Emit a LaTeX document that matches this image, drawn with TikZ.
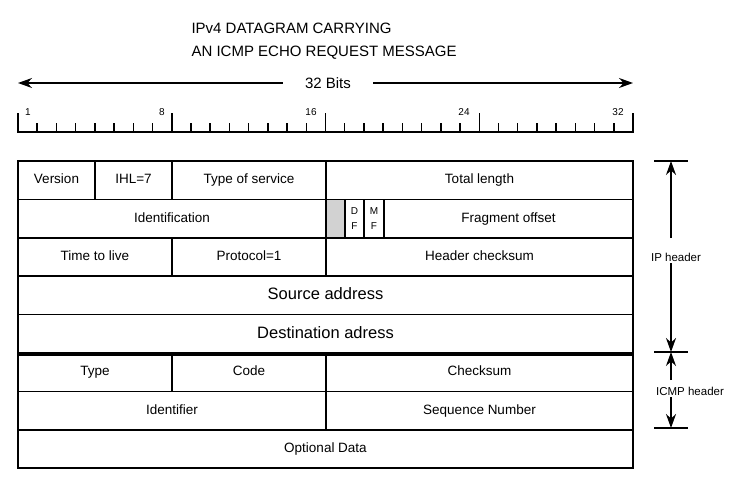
\documentclass[tikz,border=0pt]{standalone}
\usepackage{fontspec}
\setsansfont{Liberation Sans}
\usetikzlibrary{arrows.meta}

\begin{document}
\begin{tikzpicture}[x=1pt,y=-1pt,>={Stealth[length=14pt,width=10pt]},
  every node/.append style={font=\sffamily\fontsize{13.5}{16}\selectfont},
  field/.style={draw,line width=1.5pt,minimum height=38.4pt,inner sep=0pt,text height=9.5pt,text depth=2.5pt},
  bar/.style={line width=1.5pt}]
  \useasboundingbox (0,0) rectangle (733,482);

  \node[align=left,anchor=west,font=\sffamily\fontsize{15}{23}\selectfont] (title) at (188,41)
    {IPv4 DATAGRAM CARRYING\\AN ICMP ECHO REQUEST MESSAGE};

  % 32 bit ruler
  \node[inner xsep=22pt,font=\sffamily\fontsize{15}{18}\selectfont] (bits) at (328,83) {32 Bits};
  \coordinate (bitsL) at (18,83);
  \coordinate (bitsR) at (633,83);
  \draw[->,bar] (bits.west) -- (bitsL);
  \draw[->,bar] (bits.east) -- (bitsR);
  \draw[bar] (17.25,132) -- (633.75,132);
  \foreach \i in {0,...,32} {
    \pgfmathsetmacro\len{mod(\i,8)==0 ? 19 : 9}
    \draw[bar] ({18+\i*19.22},132) -- ++(0,-\len);
  }
  \foreach \lab/\x in {1/28,8/162,16/311,24/464,32/618}
    \node[font=\sffamily\fontsize{10}{11}\selectfont] (n\lab) at (\x,112) {\lab};

  % IP header
  \node[field,minimum width=77pt] (version) at (56.5,180.2) {Version};
  \node[field,minimum width=77pt] (ihl) at (133.5,180.2) {IHL=7};
  \node[field,minimum width=154pt] (tos) at (249,180.2) {Type of service};
  \node[field,minimum width=307pt] (totlen) at (479.5,180.2) {Total length};

  \node[field,minimum width=308pt] (ident) at (172,218.6) {Identification};
  \node[field,fill=gray!35,minimum width=19pt] (resv) at (335.5,218.6) {};
  \node[field,minimum width=19pt,text height=,text depth=,align=center,font=\sffamily\fontsize{10}{15}\selectfont] (df) at (354.5,218.6) {D\\F};
  \node[field,minimum width=20pt,text height=,text depth=,align=center,font=\sffamily\fontsize{10}{15}\selectfont] (mf) at (374,218.6) {M\\F};
  \node[field,minimum width=249pt] (fragoff) at (508.5,218.6) {Fragment offset};

  \node[field,minimum width=154pt] (ttl) at (95,257) {Time to live};
  \node[field,minimum width=154pt] (proto) at (249,257) {Protocol=1};
  \node[field,minimum width=307pt] (hcksum) at (479.5,257) {Header checksum};

  \node[field,minimum width=615pt,text height=12pt,text depth=3pt,font=\sffamily\fontsize{16.5}{19}\selectfont] (src) at (325.5,295.4) {Source address};
  \node[field,minimum width=615pt,text height=12pt,text depth=3pt,font=\sffamily\fontsize{16.5}{19}\selectfont] (dst) at (325.5,333.8) {Destination adress};
  \draw[line width=3.5pt] (dst.south west) -- (dst.south east);

  % ICMP header
  \node[field,minimum width=154pt] (type) at (95,372.2) {Type};
  \node[field,minimum width=154pt] (code) at (249,372.2) {Code};
  \node[field,minimum width=307pt] (cksum) at (479.5,372.2) {Checksum};

  \node[field,minimum width=308pt] (identifier) at (172,410.6) {Identifier};
  \node[field,minimum width=307pt] (seqnum) at (479.5,410.6) {Sequence Number};

  \node[field,minimum width=615pt] (optdata) at (325.5,449) {Optional Data};

  % extent markers
  \coordinate (ipTop) at (671,161);
  \coordinate (ipBot) at (671,352);
  \coordinate (icmpBot) at (671,428);
  \draw[bar] ([xshift=-17pt]ipTop) -- ([xshift=17pt]ipTop);
  \draw[bar] ([xshift=-17pt]ipBot) -- ([xshift=17pt]ipBot);
  \draw[bar] ([xshift=-17pt]icmpBot) -- ([xshift=17pt]icmpBot);

  \node[font=\sffamily\fontsize{11.5}{13}\selectfont] (iphdr) at (676,257) {IP header};
  \coordinate (ipA) at (671,238);
  \coordinate (ipB) at (671,263);
  \draw[->,bar] (ipA) -- (ipTop);
  \draw[->,bar] (ipB) -- (ipBot);

  \node[font=\sffamily\fontsize{11.5}{13}\selectfont] (icmphdr) at (690,391) {ICMP header};
  \coordinate (icmpA) at (671,380);
  \coordinate (icmpB) at (671,397);
  \draw[->,bar] (icmpA) -- (ipBot);
  \draw[->,bar] (icmpB) -- (icmpBot);
\end{tikzpicture}
\end{document}
